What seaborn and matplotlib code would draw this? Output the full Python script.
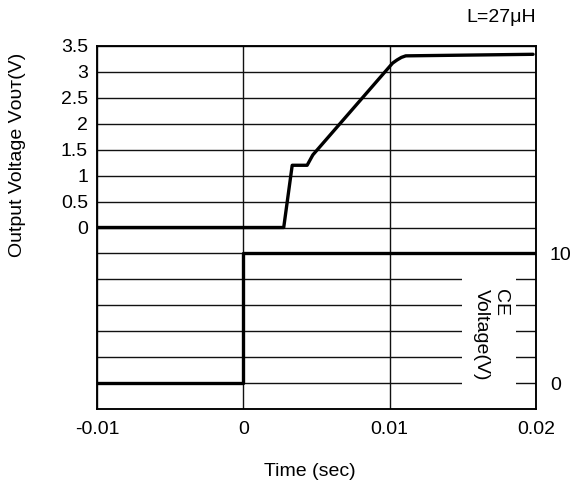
import numpy as np
import pandas as pd
import matplotlib
matplotlib.use("Agg")
import matplotlib.pyplot as plt
import seaborn as sns
from matplotlib.patches import Rectangle

# ---- data ----
time_vout = [-0.01, 0.00276, 0.00334, 0.00436, 0.00475, 0.0102, 0.0105, 0.0108, 0.0111, 0.0198]
vout = [0.0, 0.0, 1.2, 1.2, 1.40, 3.17, 3.23, 3.28, 3.31, 3.34]
time_ce = [-0.01, 0.0, 0.0, 0.02]
ce_voltage = [0.0, 0.0, 10.0, 10.0]
x_ticks = [-0.01, 0.0, 0.01, 0.02]
x_ticklabels = ["-0.01", "0", "0.01", "0.02"]
vout_ticks = [0, 0.5, 1, 1.5, 2, 2.5, 3, 3.5]
vout_ticklabels = ["0", "0.5", "1", "1.5", "2", "2.5", "3", "3.5"]
ce_ticks = [0, 10]
ce_ticklabels = ["0", "10"]

sns.set_theme(style="white")
plt.rcParams["font.family"] = ["Liberation Sans", "DejaVu Sans"]
plt.rcParams["text.color"] = "black"
FS = 14

fig = plt.figure(figsize=(5.74, 4.88), dpi=100)
ax = fig.add_axes([97 / 574, 1 - 409 / 488, (536 - 97) / 574, (409 - 46) / 488])

df_v = pd.DataFrame({"t": time_vout, "v": vout})
df_c = pd.DataFrame({"t": time_ce, "v": ce_voltage})

# grid lines every 0.5 V on the shared scale
grid_y = [round(v, 1) for v in np.arange(-3.0, 3.51, 0.5)]
ax.set_yticks(grid_y)
ax.set_yticklabels([vout_ticklabels[vout_ticks.index(y)] if y in vout_ticks else "" for y in grid_y],
                   fontsize=FS)
ax.set_xticks(x_ticks)
ax.set_xticklabels(x_ticklabels, fontsize=FS)
ax.set_xlim(-0.01, 0.02)
ax.set_ylim(-3.5, 3.5)
ax.grid(True, color="#111111", linewidth=1.0)
ax.set_axisbelow(True)
ax.tick_params(axis="both", length=0, colors="black", labelcolor="black")
ax.tick_params(axis="y", pad=6.5)
ax.tick_params(axis="x", pad=9)

sns.lineplot(data=df_v, x="t", y="v", ax=ax, sort=False, estimator=None,
             color="black", linewidth=2.4)
ax.set_xlabel("")
ax.set_ylabel("")

for s in ax.spines.values():
    s.set_color("black")
    s.set_linewidth(1.1)

# CE voltage on the right axis
ax2 = ax.twinx()
sns.lineplot(data=df_c, x="t", y="v", ax=ax2, sort=False, estimator=None,
             color="black", linewidth=2.4)
ax2.set_ylim(-2, 26)
ax2.set_yticks(ce_ticks)
ax2.set_yticklabels(ce_ticklabels, fontsize=FS)
ax2.tick_params(axis="y", length=0, pad=10, colors="black", labelcolor="black")
ax2.set_ylabel("")
ax2.set_xlabel("")
ax2.grid(False)
for s in ax2.spines.values():
    s.set_color("black")
    s.set_linewidth(1.1)

# white panel behind the CE label
ax2.add_patch(Rectangle((0.831, 0.047), 0.123, 0.35, transform=ax2.transAxes,
                        facecolor="white", edgecolor="none", zorder=3))
ax2.text(0.897, 0.205, "CE\nVoltage(V)", transform=ax2.transAxes, rotation=270,
         ha="center", va="center", multialignment="left", fontsize=FS, zorder=4,
         linespacing=1.15, color="black")

fig.text(310 / 574, 1 - 472 / 488, "Time (sec)", ha="center", va="center", fontsize=FS, color="black")
fig.text(18 / 574, 1 - 155 / 488, "Output Voltage V\u1d0f\u1d1c\u1d1b(V)", rotation=90,
         ha="center", va="center", fontsize=FS, color="black")
fig.text(536 / 574, 1 - 17 / 488, "L=27\u03bcH", ha="right", va="center", fontsize=FS, color="black")

fig.savefig("out.png", dpi=100)
